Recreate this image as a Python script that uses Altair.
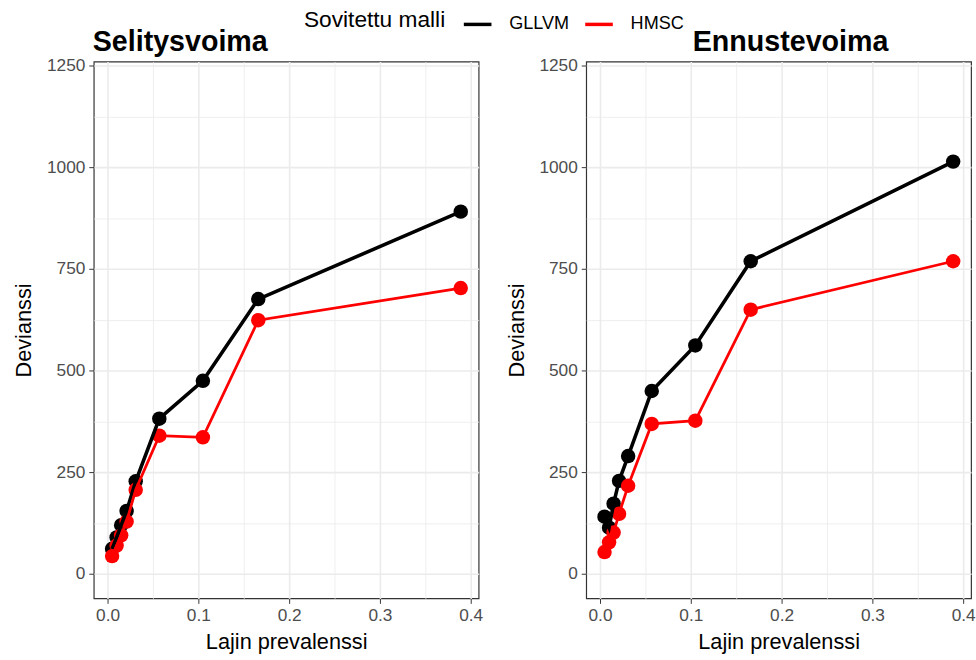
import altair as alt
import pandas as pd

prevalence = [0.005, 0.010, 0.015, 0.021, 0.031, 0.057, 0.105, 0.166, 0.389]
models = ["GLLVM", "HMSC"]
panels = ["Selitysvoima", "Ennustevoima"]

selitys_gllvm = [62, 90, 120, 155, 228, 382, 475, 676, 891]
selitys_hmsc = [44, 70, 95, 129, 207, 340, 336, 624, 703]
ennuste_gllvm = [141, 114, 173, 229, 290, 450, 562, 769, 1014]
ennuste_hmsc = [54, 78, 102, 148, 217, 369, 377, 650, 769]

x_ticks = [0.0, 0.05, 0.1, 0.15, 0.2, 0.25, 0.3, 0.35, 0.4]
y_ticks = [0, 125, 250, 375, 500, 625, 750, 875, 1000, 1125, 1250]
model_colors = ["#000000", "#FF0000"]
line_widths = [3.6, 2.8]

rows = []
for panel, series in [("Selitysvoima", [selitys_gllvm, selitys_hmsc]),
                      ("Ennustevoima", [ennuste_gllvm, ennuste_hmsc])]:
    for m, vals in zip(models, series):
        for i, (p, v) in enumerate(zip(prevalence, vals)):
            rows.append({"panel": panel, "model": m, "prev": p, "dev": v, "idx": i})
df = pd.DataFrame(rows)

FONT = "Liberation Sans"
x_minor = "round(datum.value*20) % 2 === 1"
y_minor = "datum.value % 250 !== 0"


def axis_x():
    return alt.Axis(values=x_ticks, format=".1f",
                    labelExpr=f"{x_minor} ? '' : datum.label",
                    tickOpacity={"condition": {"test": x_minor, "value": 0}, "value": 1},
                    gridWidth={"condition": {"test": x_minor, "value": 0.8}, "value": 1.6},
                    gridColor="#ebebeb", domain=False, tickColor="#333333", tickSize=5,
                    tickWidth=1, labelColor="#4d4d4d", labelFontSize=17.5, labelFont=FONT,
                    labelPadding=3, title="Lajin prevalenssi", titleFont=FONT,
                    titleFontSize=22, titleFontWeight="normal", titleColor="black",
                    titlePadding=8)


def axis_y():
    return alt.Axis(values=y_ticks, format="d",
                    labelExpr=f"{y_minor} ? '' : datum.label",
                    tickOpacity={"condition": {"test": y_minor, "value": 0}, "value": 1},
                    gridWidth={"condition": {"test": y_minor, "value": 0.8}, "value": 1.6},
                    gridColor="#ebebeb", domain=False, tickColor="#333333", tickSize=5,
                    tickWidth=1, labelColor="#4d4d4d", labelFontSize=17.5, labelFont=FONT,
                    labelPadding=4, title="Devianssi", titleFont=FONT,
                    titleFontSize=22, titleFontWeight="normal", titleColor="black",
                    titlePadding=11)


color_scale = alt.Scale(domain=models, range=model_colors)
legend = alt.Legend(
    title="Sovitettu malli", orient="none", legendX=213, legendY=-54,
    direction="horizontal", titleOrient="left", titleFont=FONT, titleFontSize=23,
    titleFontWeight="normal", titleColor="black", labelFont=FONT, labelFontSize=18.3,
    labelColor="black", symbolType="stroke", symbolStrokeWidth=3.5, symbolSize=784,
    columnPadding=9, titlePadding=16, labelOffset=16, titleLimit=300,
)


def panel_chart(name, title_dx):
    base = alt.Chart(df).transform_filter(alt.datum.panel == name)
    x = alt.X("prev:Q", scale=alt.Scale(domain=[-0.0152, 0.4087], nice=False, zero=False),
              axis=axis_x())
    y = alt.Y("dev:Q", scale=alt.Scale(domain=[-60, 1260], nice=False, zero=False),
              axis=axis_y())
    layers = []
    for m, c in zip(models, model_colors):
        layers.append(
            base.transform_filter(alt.datum.model == m)
            .mark_circle(opacity=1, size=215, color=c)
            .encode(x=x, y=y)
        )
    for m, w in zip(models, line_widths):
        layers.append(
            base.transform_filter(alt.datum.model == m)
            .mark_line(strokeWidth=w)
            .encode(x=x, y=y,
                    color=alt.Color("model:N", scale=color_scale, legend=legend),
                    order=alt.Order("idx:Q"))
        )
    return alt.layer(*layers).properties(
        width=390, height=544,
        title=alt.TitleParams(name, anchor="start", frame="group", fontSize=29,
                              fontWeight="bold", font=FONT, color="black",
                              offset=0, dx=title_dx),
    )


chart = alt.hconcat(panel_chart("Selitysvoima", -1), panel_chart("Ennustevoima", 108),
                    spacing=21).configure_view(
    stroke="#333333", strokeWidth=1.2
).properties(
    padding={"left": 12, "top": 4, "right": 0, "bottom": 0},
    background="white",
)

chart.save("out.html", embed_options={"renderer": "svg", "actions": False})
